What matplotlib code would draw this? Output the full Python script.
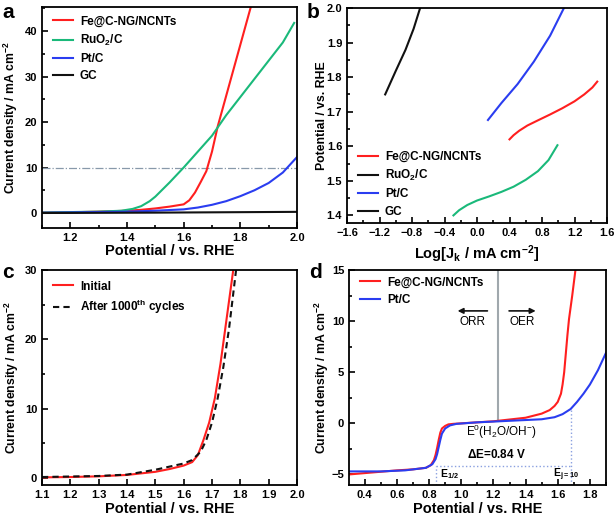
import numpy as np
import matplotlib
matplotlib.use("Agg")
import matplotlib.pyplot as plt
from matplotlib.ticker import MultipleLocator

plt.rcParams['font.family'] = ['Liberation Sans', 'DejaVu Sans']
plt.rcParams['font.weight'] = 'bold'
plt.rcParams['axes.labelweight'] = 'bold'
plt.rcParams['mathtext.fontset'] = 'custom'
plt.rcParams['mathtext.rm'] = 'Liberation Sans:normal'
plt.rcParams['mathtext.bf'] = 'Liberation Sans:bold'
plt.rcParams['mathtext.default'] = 'bf'

RED = '#ff1f1f'
GREEN = '#1ab97a'
BLUE = '#2a3df0'
BLACK = '#111111'

# panel a: OER polarization curves
pot_red_a = [1.10, 1.20, 1.30, 1.40, 1.45, 1.50, 1.55, 1.60, 1.62, 1.64, 1.66, 1.68, 1.70, 1.72, 1.74, 1.76, 1.78, 1.80, 1.82, 1.84]
j_red_a = [0.1, 0.15, 0.3, 0.5, 0.7, 1.0, 1.4, 1.9, 2.8, 4.5, 6.8, 9.2, 13.5, 19.0, 23.5, 28.0, 32.5, 37.0, 41.5, 46.0]
pot_green_a = [1.10, 1.30, 1.38, 1.42, 1.45, 1.48, 1.50, 1.55, 1.60, 1.65, 1.70, 1.75, 1.80, 1.85, 1.90, 1.95, 1.99]
j_green_a = [0.1, 0.3, 0.5, 0.9, 1.5, 2.6, 3.6, 6.7, 10.0, 13.5, 17.0, 21.5, 25.5, 29.5, 33.5, 37.5, 41.8]
pot_blue_a = [1.10, 1.40, 1.50, 1.60, 1.65, 1.70, 1.75, 1.80, 1.85, 1.90, 1.95, 2.00]
j_blue_a = [0.05, 0.3, 0.5, 0.8, 1.2, 1.8, 2.6, 3.7, 5.0, 6.6, 8.9, 12.3]
pot_gc_a = [1.10, 1.50, 2.00]
j_gc_a = [0.0, 0.08, 0.25]

# panel b: Tafel plots
logj_red_b = [0.40, 0.45, 0.52, 0.62, 0.75, 0.90, 1.05, 1.20, 1.32, 1.42, 1.48]
e_red_b = [1.620, 1.632, 1.645, 1.660, 1.675, 1.692, 1.710, 1.730, 1.750, 1.770, 1.787]
logj_black_b = [-1.13, -1.00, -0.88, -0.78, -0.70]
e_black_b = [1.750, 1.818, 1.879, 1.940, 2.000]
logj_blue_b = [0.135, 0.30, 0.50, 0.70, 0.90, 1.07]
e_blue_b = [1.676, 1.725, 1.780, 1.845, 1.920, 2.000]
logj_green_b = [-0.29, -0.22, -0.12, 0.00, 0.15, 0.30, 0.45, 0.60, 0.75, 0.88, 0.99]
e_green_b = [1.400, 1.415, 1.430, 1.443, 1.455, 1.468, 1.483, 1.503, 1.528, 1.560, 1.603]

# panel c: stability
pot_init_c = [1.10, 1.20, 1.30, 1.40, 1.50, 1.55, 1.60, 1.63, 1.65, 1.67, 1.69, 1.71, 1.73, 1.75, 1.775]
j_init_c = [0.1, 0.15, 0.25, 0.45, 0.9, 1.3, 1.8, 2.3, 3.3, 5.5, 8.0, 11.5, 16.5, 22.5, 30.0]
pot_after_c = [1.10, 1.30, 1.40, 1.50, 1.60, 1.63, 1.66, 1.68, 1.70, 1.72, 1.74, 1.76, 1.785]
j_after_c = [0.15, 0.3, 0.5, 1.2, 2.1, 2.6, 3.8, 5.5, 8.0, 11.5, 16.0, 21.5, 30.0]

# panel d: bifunctional ORR/OER
pot_red_d = [0.30, 0.45, 0.60, 0.70, 0.78, 0.81, 0.83, 0.84, 0.85, 0.86, 0.87, 0.88, 0.90, 0.92, 0.95, 1.00, 1.20, 1.40, 1.50, 1.55, 1.58, 1.60, 1.62, 1.63, 1.64, 1.65, 1.66, 1.67, 1.69, 1.71]
j_red_d = [-5.0, -4.8, -4.6, -4.5, -4.35, -4.1, -3.6, -3.1, -2.4, -1.6, -0.9, -0.5, -0.25, -0.1, -0.05, 0.0, 0.2, 0.55, 0.95, 1.3, 1.7, 2.1, 2.9, 3.8, 5.0, 6.8, 8.6, 10.2, 12.5, 15.0]
pot_blue_d = [0.30, 0.50, 0.65, 0.78, 0.82, 0.84, 0.85, 0.86, 0.87, 0.88, 0.90, 0.93, 0.97, 1.10, 1.30, 1.50, 1.58, 1.63, 1.68, 1.72, 1.76, 1.80, 1.85, 1.90]
j_blue_d = [-4.7, -4.7, -4.6, -4.35, -4.0, -3.5, -3.0, -2.3, -1.6, -1.0, -0.5, -0.2, -0.05, 0.1, 0.25, 0.4, 0.6, 0.9, 1.4, 2.1, 2.9, 3.8, 5.2, 6.9]
e_half = 0.84
e_j10 = 1.68
e_zero = 1.23

fig = plt.figure(figsize=(6.14, 5.18), dpi=100)
W, H = 614, 518


def box(l, t, r, b):
    return [l / W, 1 - b / H, (r - l) / W, (b - t) / H]


def style(ax, xmaj, xmin, ymaj, ymin):
    ax.xaxis.set_major_locator(MultipleLocator(xmaj))
    ax.xaxis.set_minor_locator(MultipleLocator(xmin))
    ax.yaxis.set_major_locator(MultipleLocator(ymaj))
    ax.yaxis.set_minor_locator(MultipleLocator(ymin))
    ax.tick_params(which='both', direction='in', top=False, right=False, labelsize=8, width=1.2)
    ax.tick_params(which='major', length=4)
    ax.tick_params(which='minor', length=2.5)
    for s in ax.spines.values():
        s.set_linewidth(1.3)


def labels(ax, xl, yl, xy, yx):
    ax.set_xlabel(xl, fontsize=10.5)
    ax.set_ylabel(yl, fontsize=8.8)
    ax.xaxis.set_label_coords(0.5, xy)
    ax.yaxis.set_label_coords(yx, 0.5)


def legend(ax, loc, **kw):
    return ax.legend(loc=loc, frameon=False, fontsize=8.5, handlelength=1.7,
                     handletextpad=0.6, labelspacing=0.45, **kw)


# a
ax = fig.add_axes(box(42, 7, 297, 228))
ax.axhline(10, color='#8899aa', lw=0.9, ls='-.')
ax.plot(pot_red_a, j_red_a, color=RED, lw=1.5, label='Fe@C-NG/NCNTs')
ax.plot(pot_green_a, j_green_a, color=GREEN, lw=1.5, label='RuO$_2$/C')
ax.plot(pot_blue_a, j_blue_a, color=BLUE, lw=1.5, label='Pt/C')
ax.plot(pot_gc_a, j_gc_a, color=BLACK, lw=1.5, label='GC')
ax.set_xlim(1.1, 2.0)
ax.set_ylim(-3.3, 45.3)
style(ax, 0.2, 0.1, 10, 5)
labels(ax, 'Potential / vs. RHE', 'Current density / mA cm$^{-2}$', -0.072, -0.086)
legend(ax, 'upper left', bbox_to_anchor=(0.0, 1.01))
fig.text(2 / W, 1 - 18 / H, 'a', fontsize=15, fontweight='bold')

# b
ax = fig.add_axes(box(347, 8, 607, 223))
ax.plot(logj_red_b, e_red_b, color=RED, lw=1.5, label='Fe@C-NG/NCNTs')
ax.plot(logj_black_b, e_black_b, color=BLACK, lw=1.5, label='RuO$_2$/C')
ax.plot(logj_blue_b, e_blue_b, color=BLUE, lw=1.5, label='Pt/C')
ax.plot(logj_green_b, e_green_b, color=GREEN, lw=1.5, label='GC')
ax.set_xlim(-1.6, 1.6)
ax.set_ylim(1.378, 2.0)
style(ax, 0.4, 0.2, 0.1, 0.05)
labels(ax, 'Log[J$_k$ / mA cm$^{-2}$]', 'Potential / vs. RHE', -0.093, -0.073)
h, l = ax.get_legend_handles_labels()
h[3].set_color(BLACK)
legend(ax, 'lower left', bbox_to_anchor=(0.0, -0.025))
h[3].set_color(GREEN)
fig.text(307 / W, 1 - 18 / H, 'b', fontsize=15, fontweight='bold')

# c
ax = fig.add_axes(box(42, 270, 297, 485))
ax.plot(pot_init_c, j_init_c, color=RED, lw=1.5, label='Initial')
ax.plot(pot_after_c, j_after_c, color=BLACK, lw=1.5, ls=(0, (3, 2)), label='After 1000$^{th}$ cycles')
ax.set_xlim(1.1, 2.0)
ax.set_ylim(-1.0, 30)
style(ax, 0.1, 0.1, 10, 5)
labels(ax, 'Potential / vs. RHE', 'Current density / mA cm$^{-2}$', -0.08, -0.082)
legend(ax, 'upper left', bbox_to_anchor=(0.0, 1.0))
fig.text(2 / W, 1 - 278 / H, 'c', fontsize=15, fontweight='bold')

# d
ax = fig.add_axes(box(349, 270, 606, 485))
ax.axvline(e_zero, ymin=(0.2 + 6.03) / 21.03, ymax=1, color='#a0a8ad', lw=1.5)
dot = dict(color='#8aa0e0', lw=1.0, ls=':')
ax.plot([e_half, e_j10], [-4.2, -4.2], **dot)
ax.plot([e_half, e_half], [-6.03, -4.2], **dot)
ax.plot([e_j10, e_j10], [-6.03, 1.4], **dot)
ax.plot(pot_red_d, j_red_d, color=RED, lw=1.5, label='Fe@C-NG/NCNTs')
ax.plot(pot_blue_d, j_blue_d, color=BLUE, lw=1.5, label='Pt/C')
ax.annotate('', xy=(0.96, 11.0), xytext=(1.18, 11.0),
            arrowprops=dict(arrowstyle='-|>', color=BLACK, lw=1.2, mutation_scale=8))
ax.annotate('', xy=(1.48, 11.0), xytext=(1.28, 11.0),
            arrowprops=dict(arrowstyle='-|>', color=BLACK, lw=1.2, mutation_scale=8))
ax.text(1.07, 9.9, 'ORR', fontsize=8.5, fontweight='normal', ha='center', va='center')
ax.text(1.38, 9.9, 'OER', fontsize=8.5, fontweight='normal', ha='center', va='center')
ax.text(1.25, -0.8, r'$\mathrm{E^{0}(H_{2}O/OH^{-})}$', fontsize=8.5, ha='center', va='center')
ax.text(1.22, -3.07, r'$\mathbf{\Delta}$E=0.84 V', fontsize=8.5, ha='center', va='center')
ax.text(0.865, -5.0, 'E$_{1/2}$', fontsize=7.5, ha='left', va='center')
ax.text(1.57, -5.0, 'E$_{j=10}$', fontsize=7.5, ha='left', va='center')
ax.set_xlim(0.302, 1.9)
ax.set_ylim(-6.03, 15)
style(ax, 0.2, 0.1, 5, 2.5)
labels(ax, 'Potential / vs. RHE', 'Current density / mA cm$^{-2}$', -0.08, -0.07)
legend(ax, 'upper left', bbox_to_anchor=(0.0, 1.02))
fig.text(309 / W, 1 - 278 / H, 'd', fontsize=15, fontweight='bold')

fig.savefig('out.png', dpi=100)
